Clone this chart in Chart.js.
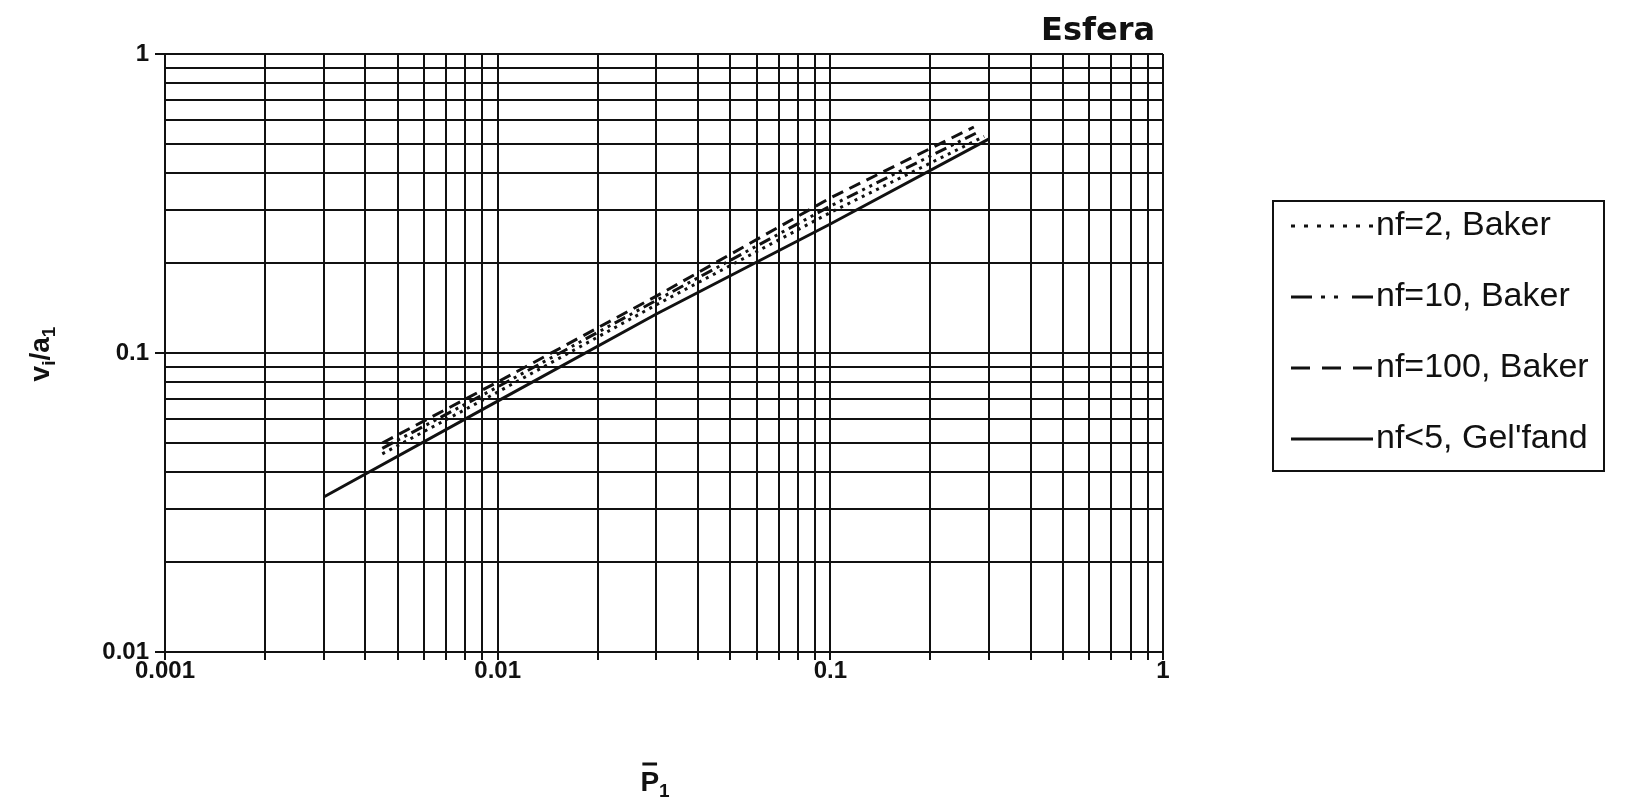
<!DOCTYPE html>
<html>
<head>
<meta charset="utf-8">
<script src="https://cdn.jsdelivr.net/npm/chart.js@4.4.1/dist/chart.umd.min.js"></script>
<style>
  html, body { margin: 0; padding: 0; background: #fff; }
  #wrap { width: 1633px; height: 808px; }
</style>
</head>
<body>
<div id="wrap"><canvas id="chart" width="1633" height="808"></canvas></div>
<script>
// ── Datos (escala log-log) ─────────────────────────────────────
const P_NF2   = [0.0045, 0.01, 0.03, 0.1, 0.29];
const V_NF2   = [0.046, 0.074, 0.145, 0.295, 0.53];
const P_NF10  = [0.0045, 0.01, 0.03, 0.1, 0.28];
const V_NF10  = [0.048, 0.077, 0.150, 0.31, 0.55];
const P_NF100 = [0.0045, 0.01, 0.03, 0.1, 0.27];
const V_NF100 = [0.050, 0.080, 0.155, 0.33, 0.57];
const P_GELF  = [0.003, 0.01, 0.03, 0.1, 0.3];
const V_GELF  = [0.033, 0.069, 0.135, 0.27, 0.52];

const SERIES_LABELS = ['nf=2, Baker', 'nf=10, Baker', 'nf=100, Baker', "nf<5, Gel'fand"];

// líneas de la rejilla y etiquetas
const X_GRID = [0.001, 0.002, 0.003, 0.004, 0.005, 0.006, 0.007, 0.008, 0.009,
                0.01, 0.02, 0.03, 0.04, 0.05, 0.06, 0.07, 0.08, 0.09,
                0.1, 0.2, 0.3, 0.4, 0.5, 0.6, 0.7, 0.8, 0.9, 1];
const Y_GRID = [0.01, 0.02, 0.03, 0.04, 0.05, 0.06, 0.07, 0.08, 0.09,
                0.1, 0.2, 0.3, 0.4, 0.5, 0.6, 0.7, 0.8, 0.9, 1];
const X_LABELS = ['0.001', '0.01', '0.1', '1'];
const Y_LABELS = ['0.01', '0.1', '1'];

const INK = '#111';
const TICK_FONT = { family: '"Liberation Sans", Arial, sans-serif', size: 24, weight: 'bold' };

const toPoints = (xs, ys) => xs.map((x, i) => ({ x, y: ys[i] }));
const findLabel = (labels, value) =>
    labels.find(l => Math.abs(Number(l) - value) / Number(l) < 1e-6);
const labelFor = (labels) => (value) => findLabel(labels, value) || '';

/* ── Títulos, ejes con subíndices y leyenda con recuadro ──────── */
const decorPlugin = {
    id: 'decor',
    afterDraw(chart) {
        const ctx = chart.ctx;
        ctx.save();
        ctx.fillStyle = INK;
        ctx.strokeStyle = INK;

        // título
        ctx.font = 'bold 32px "DejaVu Sans", sans-serif';
        ctx.textAlign = 'right';
        ctx.textBaseline = 'alphabetic';
        ctx.fillText('Esfera', 1155, 40);

        // eje Y: v_i/a_1
        const main = 'bold 28px "Liberation Sans", Arial, sans-serif';
        const sub  = 'bold 19px "Liberation Sans", Arial, sans-serif';
        const parts = [['v', main, 0], ['i', sub, 6], ['/a', main, 0], ['1', sub, 6]];
        ctx.textAlign = 'left';
        let total = 0;
        parts.forEach(([t, f]) => { ctx.font = f; total += ctx.measureText(t).width; });
        ctx.save();
        ctx.translate(41, 354);
        ctx.rotate(-Math.PI / 2);
        let cx = -total / 2;
        parts.forEach(([t, f, dy]) => {
            ctx.font = f;
            ctx.fillText(t, cx, 8 + dy);
            cx += ctx.measureText(t).width;
        });
        ctx.restore();

        // eje X: P barra, subíndice 1
        ctx.font = main;
        const pw = ctx.measureText('P').width;
        ctx.font = sub;
        const sw = ctx.measureText('1').width;
        const px = 655 - (pw + sw) / 2;
        ctx.font = main;
        ctx.fillText('P', px, 791);
        ctx.font = sub;
        ctx.fillText('1', px + pw, 797);
        ctx.lineWidth = 3;
        ctx.beginPath();
        ctx.moveTo(px + 2, 764);
        ctx.lineTo(px + pw - 2, 764);
        ctx.stroke();

        // leyenda
        const box = { x: 1273, y: 201, w: 331, h: 270 };
        ctx.lineWidth = 2;
        ctx.strokeRect(box.x, box.y, box.w, box.h);
        const legendDash = [[4, 9], [21, 9, 4, 9, 4, 14], [19, 12], []];
        ctx.font = '34px "Liberation Sans", Arial, sans-serif';
        ctx.textBaseline = 'middle';
        chart.data.datasets.forEach((ds, i) => {
            const y = 226 + i * 71;
            ctx.setLineDash(legendDash[i]);
            ctx.lineWidth = 3;
            ctx.beginPath();
            ctx.moveTo(1291, y);
            ctx.lineTo(1373, y);
            ctx.stroke();
            ctx.setLineDash([]);
            ctx.fillText(ds.label, 1376, y);
        });
        ctx.restore();
    }
};

new Chart(document.getElementById('chart'), {
    type: 'line',
    data: {
        datasets: [
            { label: SERIES_LABELS[0], data: toPoints(P_NF2, V_NF2),     borderDash: [3, 5] },
            { label: SERIES_LABELS[1], data: toPoints(P_NF10, V_NF10),   borderDash: [12, 5, 3, 5, 3, 5] },
            { label: SERIES_LABELS[2], data: toPoints(P_NF100, V_NF100), borderDash: [12, 7] },
            { label: SERIES_LABELS[3], data: toPoints(P_GELF, V_GELF),   borderDash: [] }
        ].map(ds => Object.assign(ds, {
            borderColor: INK, borderWidth: 3, pointRadius: 0, tension: 0, fill: false
        }))
    },
    options: {
        responsive: false,
        animation: false,
        layout: { padding: { left: 0, top: 54, right: 470, bottom: 0 } },
        plugins: { legend: { display: false }, tooltip: { enabled: false }, title: { display: false } },
        scales: {
            x: {
                type: 'logarithmic', min: 0.001, max: 1,
                afterBuildTicks: s => { s.ticks = X_GRID.map(v => ({ value: v })); },
                afterFit: s => { s.height = 156; },
                grid: { color: INK, lineWidth: 2, tickLength: 8, drawTicks: true },
                border: { display: true, color: INK, width: 2 },
                ticks: { autoSkip: false, maxRotation: 0, padding: -3, color: INK, font: TICK_FONT,
                         callback: labelFor(X_LABELS) }
            },
            y: {
                type: 'logarithmic', min: 0.01, max: 1,
                afterBuildTicks: s => { s.ticks = Y_GRID.map(v => ({ value: v })); },
                afterFit: s => { s.width = 165; },
                grid: {
                    color: INK, lineWidth: 2, tickLength: 10, drawTicks: true,
                    tickColor: c => (c.tick && findLabel(Y_LABELS, c.tick.value)) ? INK : 'rgba(0,0,0,0)'
                },
                border: { display: true, color: INK, width: 2 },
                ticks: { autoSkip: false, padding: 6, color: INK, font: TICK_FONT,
                         callback: labelFor(Y_LABELS) }
            }
        }
    },
    plugins: [decorPlugin]
});
</script>
</body>
</html>
